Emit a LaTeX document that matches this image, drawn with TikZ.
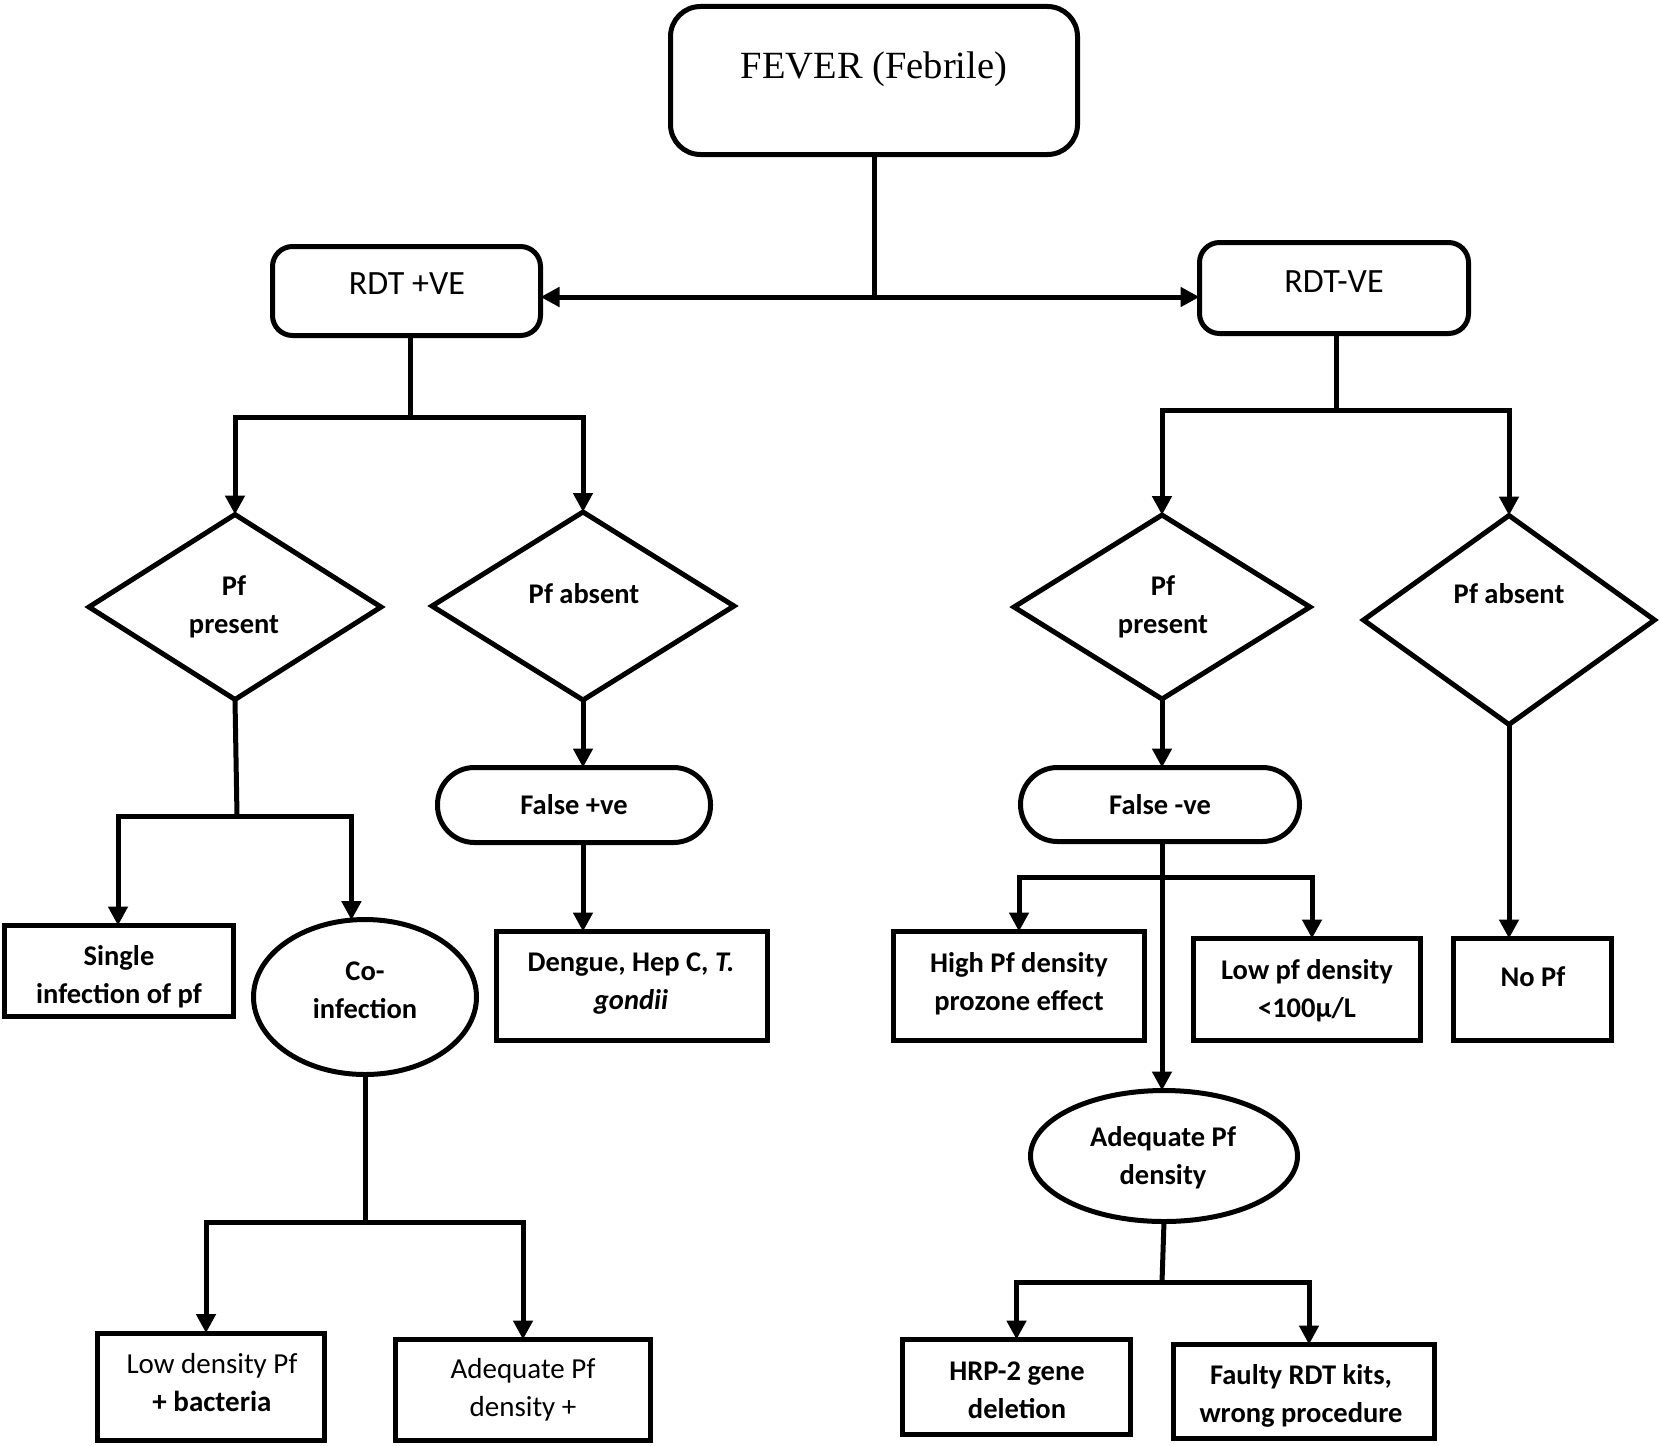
\documentclass[tikz,border=0pt]{standalone}
\usepackage{fontspec}
\setmainfont{Carlito}
\newfontfamily\timesf{Liberation Serif}
\usetikzlibrary{shapes.geometric,arrows.meta,calc}
\newcommand\bt{\fontsize{28.5}{38}\selectfont\bfseries}
\newcommand\rt{\fontsize{29}{38}\selectfont}
\begin{document}
\begin{tikzpicture}[x=1pt,y=-1pt,line width=5pt,
  every node/.style={inner sep=0pt, outer sep=0pt},
  arr/.style={-{Triangle[length=19pt,width=19pt]}},
  box/.style={draw, rectangle, align=center, font=\bt},
  rbox/.style={draw, rectangle, rounded corners=20pt, align=center},
  pill/.style={draw, rectangle, rounded corners=37pt, align=center, font=\bt},
  ell/.style={draw, ellipse, align=center, font=\bt},
  dia/.style={draw, diamond},
  txt/.style={align=center, font=\bt}]
\fill[white] (0,0) rectangle (1661,1445);
\useasboundingbox (0,0) rectangle (1661,1445);

% top
\node[rbox, rounded corners=30pt, minimum width=407pt, minimum height=148pt] (fever) at (874,80.5) {};
\node[font=\timesf\fontsize{38.5}{44}\selectfont] (fevert) at (874,69) {FEVER (Febrile)};
\node[rbox, minimum width=268pt, minimum height=89pt] (rdtp) at (406.5,291) {};
\node[font=\fontsize{34}{40}\selectfont] (rdtpt) at (407,284) {RDT +VE};
\node[rbox, minimum width=269pt, minimum height=91pt] (rdtn) at (1334,288) {};
\node[font=\fontsize{34}{40}\selectfont] (rdtnt) at (1334,282) {RDT-VE};

% diamonds
\node[dia, minimum width=292pt, minimum height=185pt] (d1) at (235,607) {};
\node[txt] (d1t) at (234,607) {Pf\\present};
\node[dia, minimum width=302pt, minimum height=188pt] (d2) at (583,606) {};
\node[txt] (d2t) at (584,594) {Pf absent};
\node[dia, minimum width=296pt, minimum height=184pt] (d3) at (1162,607) {};
\node[txt] (d3t) at (1163,607) {Pf\\present};
\node[dia, minimum width=291pt, minimum height=209pt] (d4) at (1509,620) {};
\node[txt] (d4t) at (1509,594) {Pf absent};

% left branch
\node[box, minimum width=229pt, minimum height=91pt] (single) at (119,971) {};
\node[txt] (singlet) at (119,977) {Single\\infection of pf};
\node[ell, minimum width=223pt, minimum height=155pt] (coinf) at (365,997) {};
\node[txt] (coinft) at (365,990) {Co-\\infection};
\node[box, minimum width=227pt, minimum height=107pt] (lowd) at (211,1386.5) {};
\node[txt, font=\rt] (lowdt) at (212,1383) {Low density Pf\\\textbf{+ bacteria}};
\node[box, font=\rt, minimum width=255pt, minimum height=101pt] (adqp) at (523,1390) {Adequate Pf\\density +};

% middle
\node[pill, minimum width=273pt, minimum height=75pt] (fpos) at (574,805) {False +ve};
\node[box, minimum width=271pt, minimum height=109pt] (deng) at (632,986) {};
\node[txt] (dengt) at (631,984) {Dengue, Hep C, \textit{T.}\\\textit{gondii}};

% right branch
\node[pill, minimum width=279pt, minimum height=74pt] (fneg) at (1160,804.5) {False -ve};
\node[box, minimum width=251pt, minimum height=109pt] (high) at (1019,986) {};
\node[txt] (hight) at (1019,984) {High Pf density\\prozone effect};
\node[box, minimum width=227pt, minimum height=102pt] (lowpf) at (1307,989.5) {};
\node[txt] (lowpft) at (1307,991) {Low pf density\\<100μ/L};
\node[box, minimum width=158pt, minimum height=102pt] (nopf) at (1532.5,989.5) {};
\node[txt] (nopft) at (1533,977) {No Pf};
\node[ell, minimum width=267pt, minimum height=131pt] (adq) at (1164,1156) {};
\node[txt] (adqt) at (1163,1158) {Adequate Pf\\density};
\node[box, minimum width=228pt, minimum height=95pt] (hrp) at (1016.5,1387) {};
\node[txt] (hrpt) at (1017,1390) {HRP-2 gene\\deletion};
\node[box, minimum width=261pt, minimum height=94pt] (faulty) at (1304,1391.5) {};
\node[txt] (faultyt) at (1301,1396) {Faulty RDT kits,\\wrong procedure};

% junctions
\coordinate (j0) at (874,297);
\coordinate (j1) at (410,417);
\coordinate (j2) at (1336,410);
\coordinate (j3) at (237,816);
\coordinate (j4) at (365,1222);
\coordinate (j5) at (1162,877);
\coordinate (j6) at (1162,1282);

% connectors
\draw (fever.south) -- (j0);
\draw[arr] (j0) -- (j0 -| rdtp.east);
\draw[arr] (j0) -- (j0 -| rdtn.west);

\draw (rdtp.south -| j1) -- (j1);
\draw[arr] (j1) -| (d1.north);
\draw[arr] (j1) -| (d2.north);

\draw (rdtn.south -| j2) -- (j2);
\draw[arr] (j2) -| (d3.north);
\draw[arr] (j2) -| (d4.north);

\draw (d1.south) -- (j3);
\draw[arr] (j3) -| ($(single.north)+(-1,0)$);
\draw[arr] (j3) -| (coinf.100);

\draw (coinf.south) -- (j4);
\draw[arr] (j4) -| ($(lowd.north)+(-5,0)$);
\draw[arr] (j4) -| (adqp.north);

\draw[arr] (d2.south) -- (d2.south |- fpos.north);
\draw[arr] (d2.south |- fpos.south) -- (d2.south |- deng.north);

\draw[arr] (d3.south) -- (d3.south |- fneg.north);
\draw[arr] (d3.south |- fneg.south) -- (d3.south |- adq.north);
\draw[arr] (j5) -| (high.north);
\draw[arr] (j5) -| ($(lowpf.north)+(5,0)$);

\draw[arr] (d4.south) -- (d4.south |- nopf.north);

\draw (adq.south) -- (j6);
\draw[arr] (j6) -| (hrp.north);
\draw[arr] (j6) -| ($(faulty.north)+(5,0)$);
\end{tikzpicture}
\end{document}
